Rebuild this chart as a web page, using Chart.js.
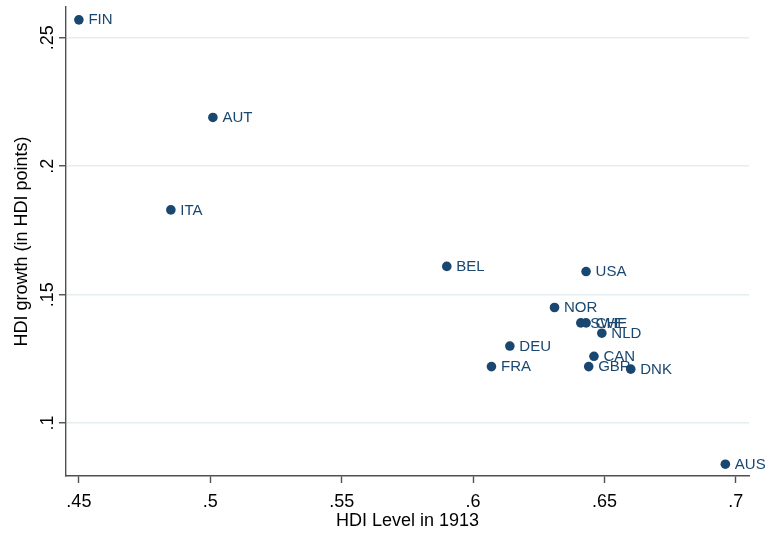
<!DOCTYPE html>
<html>
<head>
<meta charset="utf-8">
<script src="https://cdn.jsdelivr.net/npm/chart.js@4"></script>
<style>
  html, body { margin: 0; padding: 0; background: #fff; }
  #wrap { width: 767px; height: 533px; }
</style>
</head>
<body>
<div id="wrap"><canvas id="c" width="767" height="533"></canvas></div>
<script>
const countries = ["FIN","AUT","ITA","BEL","USA","NOR","SWE","CHE","NLD","DEU","CAN","FRA","GBR","DNK","AUS"];
const hdi1913   = [0.450,0.501,0.485,0.590,0.643,0.631,0.641,0.643,0.649,0.614,0.646,0.607,0.644,0.660,0.696];
const hdiGrowth = [0.257,0.219,0.183,0.161,0.159,0.145,0.139,0.139,0.135,0.130,0.126,0.122,0.122,0.121,0.084];
const xTickValues = [0.45,0.5,0.55,0.6,0.65,0.7];
const xTickLabels = [".45",".5",".55",".6",".65",".7"];
const yTickValues = [0.1,0.15,0.2,0.25];
const yTickLabels = [".1",".15",".2",".25"];

const FONT = '"Liberation Sans", Arial, Helvetica, sans-serif';
const NAVY = '#1a476f';
const AXIS = '#505050';
const GRID = '#e6eef1';

const points = hdi1913.map((x, i) => ({x: x, y: hdiGrowth[i]}));

const overlay = {
  id: 'overlay',
  afterDatasetsDraw(chart) {
    const ctx = chart.ctx;
    const meta = chart.getDatasetMeta(0);
    ctx.save();
    ctx.font = '15px ' + FONT;
    ctx.fillStyle = NAVY;
    ctx.textAlign = 'left';
    ctx.textBaseline = 'middle';
    meta.data.forEach((el, i) => {
      ctx.fillText(countries[i], el.x + 9.5, el.y + 0.5);
    });
    ctx.restore();
  },
  afterDraw(chart) {
    const ctx = chart.ctx;
    const ys = chart.scales.y;
    ctx.save();
    ctx.font = '18px ' + FONT;
    ctx.fillStyle = '#000';
    ctx.textAlign = 'center';
    ctx.textBaseline = 'alphabetic';
    yTickValues.forEach((v, i) => {
      const py = ys.getPixelForValue(v);
      ctx.save();
      ctx.translate(53, py);
      ctx.rotate(-Math.PI / 2);
      ctx.fillText(yTickLabels[i], 0, 0);
      ctx.restore();
    });
    ctx.restore();
  }
};

new Chart(document.getElementById('c'), {
  type: 'scatter',
  data: {
    datasets: [{
      data: points,
      backgroundColor: NAVY,
      borderColor: NAVY,
      borderWidth: 0,
      pointRadius: 4.8,
      pointHoverRadius: 4.8
    }]
  },
  options: {
    responsive: false,
    animation: false,
    devicePixelRatio: 1,
    layout: { padding: { top: 7, right: 18, left: 0, bottom: 0 } },
    plugins: { legend: { display: false }, tooltip: { enabled: false } },
    scales: {
      x: {
        type: 'linear',
        min: 0.4451, max: 0.705,
        afterBuildTicks(scale) { scale.ticks = xTickValues.map(v => ({value: v})); },
        afterFit(scale) { scale.height = 57; },
        ticks: {
          callback: (v) => { const i = xTickValues.findIndex(t => Math.abs(t - v) < 1e-9); return i >= 0 ? xTickLabels[i] : ''; },
          font: { family: FONT, size: 18 },
          color: '#000',
          padding: 8,
          maxRotation: 0, minRotation: 0,
          autoSkip: false
        },
        grid: { drawOnChartArea: false, drawTicks: true, tickLength: 7, tickColor: AXIS, tickWidth: 1.4 },
        border: { display: true, color: AXIS, width: 1.4 },
        title: {
          display: true, text: 'HDI Level in 1913',
          font: { family: FONT, size: 18 }, color: '#000',
          padding: { top: 0, bottom: 1 }
        }
      },
      y: {
        type: 'linear',
        min: 0.0794, max: 0.262,
        afterBuildTicks(scale) { scale.ticks = yTickValues.map(v => ({value: v})); },
        afterFit(scale) { scale.width = 66; },
        ticks: { display: false },
        grid: { color: GRID, lineWidth: 1.5, drawTicks: true, tickLength: 7, tickColor: AXIS, tickWidth: 1.4 },
        border: { display: true, color: AXIS, width: 1.4 },
        title: {
          display: true, text: 'HDI growth (in HDI points)',
          font: { family: FONT, size: 18 }, color: '#000',
          padding: { top: 11, bottom: 0 }
        }
      }
    }
  },
  plugins: [overlay]
});
</script>
</body>
</html>
